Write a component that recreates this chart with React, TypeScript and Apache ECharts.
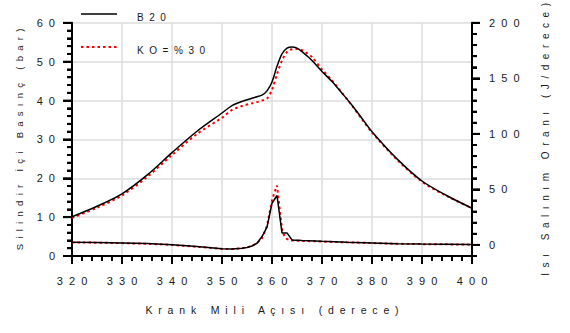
import React, { useEffect, useRef } from "react";
import * as echarts from "echarts";

const RIGHT_TICKS = [0, 50, 100, 150, 200];

const P_ANGLES = [320, 325, 330, 335, 340, 345, 350, 352, 354, 356, 357, 358, 359, 360, 361, 362, 363, 364, 365, 366, 367, 368, 370, 372, 374, 376, 378, 380, 385, 390, 395, 400];
const B20_P = [10.1, 12.8, 16.0, 20.8, 26.6, 32.1, 36.8, 38.7, 39.8, 40.6, 41.0, 41.4, 42.5, 44.8, 48.8, 52.0, 53.5, 53.8, 53.5, 52.6, 51.5, 50.3, 47.5, 44.9, 41.9, 38.8, 35.4, 32.0, 25.0, 19.3, 15.5, 12.3];
const KO_P = [9.8, 12.4, 15.6, 20.3, 26.0, 31.4, 35.6, 37.6, 38.6, 39.3, 39.6, 40.0, 40.5, 42.8, 46.8, 50.3, 52.5, 53.2, 53.3, 53.0, 52.2, 51.2, 48.0, 45.2, 42.0, 38.7, 35.2, 31.8, 24.8, 19.1, 15.4, 12.3];

const B20_HRR_ANGLES = [320, 325, 330, 335, 340, 345, 350, 352, 354, 355, 356, 357, 358, 359, 360, 361, 362, 363, 364, 365, 366, 370, 375, 380, 385, 390, 395, 400];
const B20_HRR = [2.4, 2.2, 1.8, 1.2, 0.2, -1.5, -3.5, -3.8, -3.0, -2.3, -1.0, 1.5, 7.5, 16, 37.5, 44.5, 10.8, 10.8, 4.5, 4.2, 3.9, 3.2, 2.4, 1.8, 1.1, 0.8, 0.6, 0.3];

const KO_HRR_ANGLES = [320, 325, 330, 335, 340, 345, 350, 352, 354, 355, 356, 357, 358, 359, 360, 360.5, 361, 361.5, 362, 362.5, 363, 364, 365, 366, 370, 375, 380, 385, 390, 395, 400];
const KO_HRR = [2.2, 2.0, 1.6, 1.0, 0, -1.7, -3.6, -3.8, -3.0, -2.2, -0.8, 1.5, 6, 17, 40, 47.5, 53.5, 34, 14, 7.5, 5.3, 4.0, 3.8, 3.6, 3.0, 2.3, 1.7, 1.0, 0.7, 0.5, 0.2];

const SERIES_NAMES = ["B20", "KO=%30"];
const X_TITLE = "Krank Mili Açısı (derece)";
const Y_LEFT_TITLE = "Silindir İçi Basınç (bar)";
const Y_RIGHT_TITLE = "Isı Salınım Oranı (J/derece)";

const sp = (s: string) => s.split("").join("  ");
const pairs = (xs: number[], ys: number[]) => xs.map((x, i) => [x, ys[i]]);
const steps = (a: number, b: number, d: number) => {
  const out: number[] = [];
  for (let v = a; v <= b + 1e-9; v += d) out.push(v);
  return out;
};

const FONT = "Liberation Sans, Arial, sans-serif";
const TXT = "#1a1a1a";

export default function App() {
  const ref = useRef<HTMLDivElement>(null);
  useEffect(() => {
    if (!ref.current) return;
    const chart = echarts.init(ref.current, null, { renderer: "svg" });
    const labelStyle = { color: TXT, fontFamily: FONT, fontSize: 11 };
    const nameStyle = { color: TXT, fontFamily: FONT, fontSize: 10.5 };
    const black = { color: "#000", width: 1.5, type: "solid" as const };
    const red = { color: "#ff0000", width: 2, type: [2.5, 3] as any };
    const axisLine = { color: "#000", width: 2 };

    // tick marks placed at axis coordinates through the axes' own scales
    const tickSeries = (data: number[][], yAxisIndex: number, dir: "down" | "left" | "right", majorStep: number, majorLen: number, minorLen: number) => ({
      type: "custom",
      xAxisIndex: 0,
      yAxisIndex,
      silent: true,
      clip: false,
      z: 10,
      data,
      renderItem: (_p: any, api: any) => {
        const x = api.value(0);
        const y = api.value(1);
        const pt = api.coord([x, y]);
        const v = dir === "down" ? x : y;
        const len = Math.abs(v % majorStep) < 1e-9 ? majorLen : minorLen;
        let shape;
        if (dir === "down") shape = { x: pt[0] - 1, y: pt[1], width: 2, height: len };
        else if (dir === "left") shape = { x: pt[0] - len, y: pt[1] - 1, width: len, height: 2 };
        else shape = { x: pt[0], y: pt[1] - 1, width: len, height: 2 };
        return { type: "rect", shape, style: { fill: "#000" } };
      },
    });

    chart.setOption({
      animation: false,
      backgroundColor: "#fff",
      grid: { left: 72, right: 98, top: 6, bottom: 77, containLabel: false },
      xAxis: {
        type: "value",
        min: 320,
        max: 400,
        interval: 10,
        name: sp(X_TITLE),
        nameLocation: "middle",
        nameGap: 48,
        nameTextStyle: nameStyle,
        axisLine: { show: true, onZero: false, lineStyle: axisLine },
        axisTick: { show: true, inside: false, length: 8, lineStyle: axisLine },
        minorTick: { show: true, splitNumber: 5, length: 5, lineStyle: axisLine },
        axisLabel: { ...labelStyle, margin: 19, formatter: (v: number) => sp(String(v)) },
        splitLine: { show: true, lineStyle: { color: "#dcdcdc", width: 1.5 } },
      },
      yAxis: [
        {
          type: "value",
          min: 0,
          max: 60,
          interval: 10,
          position: "left",
          name: sp(Y_LEFT_TITLE),
          nameLocation: "middle",
          nameRotate: 90,
          nameGap: 48,
          nameTextStyle: { ...nameStyle, fontSize: 9.5 },
          axisLine: { show: true, onZero: false, lineStyle: axisLine },
          axisTick: { show: true, inside: false, length: 9, lineStyle: axisLine },
          minorTick: { show: true, splitNumber: 5, length: 5, lineStyle: axisLine },
          axisLabel: { ...labelStyle, margin: 17, formatter: (v: number) => sp(String(v)) },
          splitLine: { show: true, lineStyle: { color: "#dcdcdc", width: 1.5 } },
        },
        {
          type: "value",
          min: -10,
          max: 200,
          interval: 10,
          position: "right",
          axisLine: { show: true, onZero: false, lineStyle: axisLine },
          axisTick: { show: true, inside: false, length: 5, lineStyle: axisLine },
          axisLabel: { show: false },
          splitLine: { show: false },
        },
        {
          type: "value",
          min: -10,
          max: 200,
          position: "right",
          name: sp(Y_RIGHT_TITLE),
          nameLocation: "middle",
          nameRotate: 90,
          nameGap: 68,
          nameTextStyle: { ...nameStyle, fontSize: 10 },
          axisLine: { show: false },
          axisTick: { show: true, inside: false, length: 8, customValues: RIGHT_TICKS, lineStyle: axisLine },
          axisLabel: { ...labelStyle, margin: 17, customValues: RIGHT_TICKS, formatter: (v: number) => sp(String(v)) },
          splitLine: { show: false },
        },
      ],
      series: [
        { name: SERIES_NAMES[1], type: "line", yAxisIndex: 0, data: pairs(P_ANGLES, KO_P), smooth: 0.3, symbol: "none", lineStyle: red, itemStyle: { color: "#ff0000" } },
        { name: SERIES_NAMES[0], type: "line", yAxisIndex: 0, data: pairs(P_ANGLES, B20_P), smooth: 0.3, symbol: "none", lineStyle: black, itemStyle: { color: "#000" } },
        { name: SERIES_NAMES[1], type: "line", yAxisIndex: 1, data: pairs(KO_HRR_ANGLES, KO_HRR), symbol: "none", lineStyle: red, itemStyle: { color: "#ff0000" } },
        { name: SERIES_NAMES[0], type: "line", yAxisIndex: 1, data: pairs(B20_HRR_ANGLES, B20_HRR), symbol: "none", lineStyle: black, itemStyle: { color: "#000" } },
        tickSeries(steps(320, 400, 2).map((v) => [v, 0]), 0, "down", 10, 8, 5),
        tickSeries(steps(0, 60, 2).map((v) => [320, v]), 0, "left", 10, 9, 5),
        tickSeries(steps(-10, 200, 10).map((v) => [400, v]), 1, "right", 50, 8, 5),
      ],
      graphic: [
        { type: "line", shape: { x1: 81, y1: 14, x2: 117, y2: 14 }, style: { stroke: "#000", lineWidth: 1.5 } },
        { type: "text", x: 137, y: 17, style: { text: sp(SERIES_NAMES[0]), fill: TXT, font: "10px " + FONT, verticalAlign: "middle" } },
        { type: "line", shape: { x1: 81, y1: 47, x2: 117, y2: 47 }, style: { stroke: "#ff0000", lineWidth: 2, lineDash: [2.5, 3] } },
        { type: "text", x: 137, y: 50.5, style: { text: sp(SERIES_NAMES[1]), fill: TXT, font: "10px " + FONT, verticalAlign: "middle" } },
      ],
    });
    return () => chart.dispose();
  }, []);
  return <div ref={ref} style={{ width: 570, height: 333, position: "absolute", left: 0, top: 0 }} />;
}
